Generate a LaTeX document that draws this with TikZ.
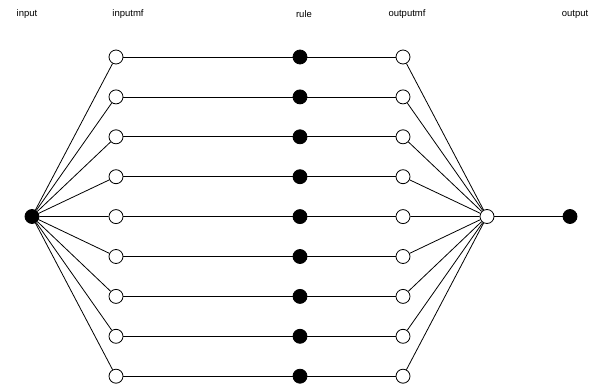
\documentclass[tikz,border=0pt]{standalone}
\usepackage{fontspec}
\setmainfont{Liberation Sans}
\begin{document}
\begin{tikzpicture}[x=1pt,y=-1pt,
  open/.style={circle,draw,fill=white,inner sep=0pt,minimum size=14pt,line width=0.8pt},
  solid/.style={circle,draw,fill=black,inner sep=0pt,minimum size=14pt,line width=0.8pt},
  lab/.style={font=\fontsize{9.5}{11}\selectfont},
  wire/.style={line width=0.8pt}]
\useasboundingbox (0,0) rectangle (592,388);
% layer headings
\node[lab] (tin) at (27,14) {input};
\node[lab] (tinmf) at (128,14) {inputmf};
\node[lab] (trule) at (304,14) {rule};
\node[lab] (toutmf) at (407,14) {outputmf};
\node[lab] (tout) at (575,14) {output};
% input, aggregation and output nodes
\node[solid] (in) at (32,216.5) {};
\node[open] (agg) at (487,216.5) {};
\node[solid] (out) at (570,216.5) {};
\draw[wire] (agg) -- (out);
% nine rule paths
\foreach \i in {1,...,9}{
  \pgfmathsetmacro{\yy}{57+(\i-1)*39.9}
  \node[open] (a\i) at (116,\yy) {};
  \node[solid] (r\i) at (300,\yy) {};
  \node[open] (b\i) at (403,\yy) {};
  \draw[wire] (in) -- (a\i);
  \draw[wire] (a\i) -- (r\i) -- (b\i);
  \draw[wire] (b\i) -- (agg);
}
\end{tikzpicture}
\end{document}
